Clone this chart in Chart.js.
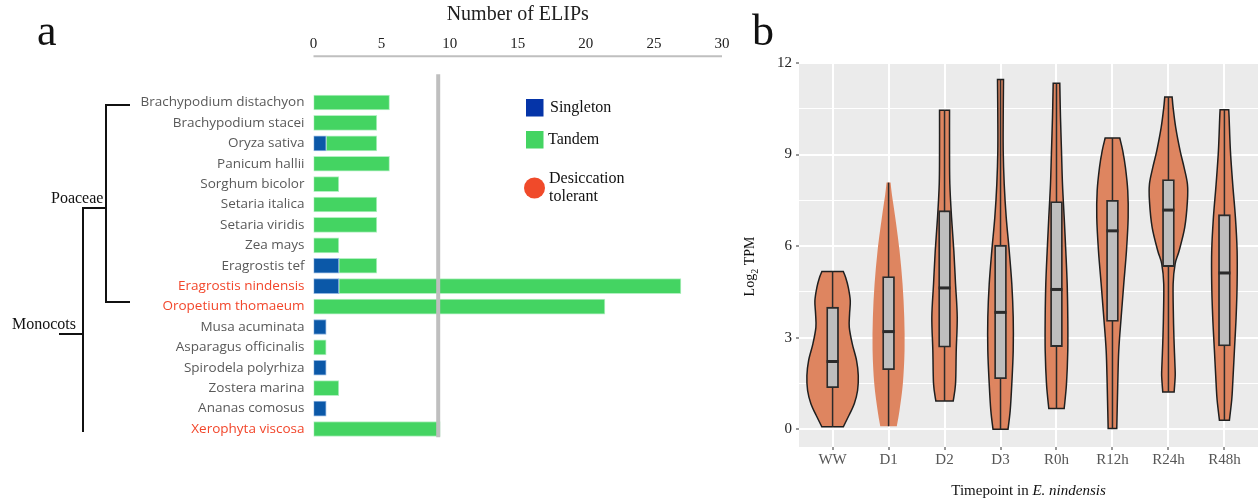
<!DOCTYPE html>
<html>
<head>
<meta charset="utf-8">
<script src="https://cdn.jsdelivr.net/npm/chart.js@4.4.1/dist/chart.umd.min.js"></script>
<style>
  html, body { margin: 0; padding: 0; background: #fff; }
  body { width: 1258px; height: 502px; position: relative; overflow: hidden; }
  #wrapA { position: absolute; left: 0; top: 0; width: 740px; height: 502px; }
  #wrapB { position: absolute; left: 740px; top: 0; width: 518px; height: 502px; }
</style>
</head>
<body>
<div id="wrapA"><canvas id="elips"></canvas></div>
<div id="wrapB"><canvas id="violins"></canvas></div>
<script>
// ---- panel a: ELIP counts per species ----
const species = [
  "Brachypodium distachyon", "Brachypodium stacei", "Oryza sativa", "Panicum hallii",
  "Sorghum bicolor", "Setaria italica", "Setaria viridis", "Zea mays", "Eragrostis tef",
  "Eragrostis nindensis", "Oropetium thomaeum", "Musa acuminata", "Asparagus officinalis",
  "Spirodela polyrhiza", "Zostera marina", "Ananas comosus", "Xerophyta viscosa"
];
const desiccationTolerant = ["Eragrostis nindensis", "Oropetium thomaeum", "Xerophyta viscosa"];
const singletonCounts = [0, 0, 1, 0, 0, 0, 0, 0, 2, 2, 0, 1, 0, 1, 0, 1, 0];
const tandemCounts = [6, 5, 4, 6, 2, 5, 5, 2, 3, 27, 23, 0, 1, 0, 2, 0, 10];
const elipTicks = [0, 5, 10, 15, 20, 25, 30];
const elipMarker = 10;

// ---- panel b: E. nindensis ELIP expression ----
const timepoints = ["WW", "D1", "D2", "D3", "R0h", "R12h", "R24h", "R48h"];
const tpmMin = [0.08, 0.1, 0.93, 0, 0.68, 0.03, 1.22, 0.3];
const tpmQ1 = [1.36, 1.95, 2.69, 1.66, 2.71, 3.53, 5.33, 2.73];
const tpmMedian = [2.22, 3.2, 4.63, 3.83, 4.58, 6.5, 7.18, 5.12];
const tpmQ3 = [4.0, 5.0, 7.16, 6.03, 7.46, 7.5, 8.18, 7.03];
const tpmMax = [5.17, 8.08, 10.45, 11.46, 11.33, 9.54, 10.88, 10.47];
const tpmTicks = [0, 3, 6, 9, 12];

// density profiles [log2 TPM, density]
const densityWW = [[0.08, 10.7], [0.41, 15.7], [0.84, 21.7], [1.27, 25], [1.76, 25.7], [2.25, 24], [2.8, 19.7], [3.34, 16.7], [3.78, 17], [4.21, 17.7], [4.65, 15.7], [4.98, 13], [5.17, 10.7]];
const densityD1 = [[0.1, 8.3], [0.62, 11], [1.49, 14.3], [2.58, 16], [3.67, 15.7], [4.76, 14], [5.85, 11], [6.94, 6.7], [7.7, 3.3], [8.08, 2]];
const densityD2 = [[0.93, 8.7], [1.49, 11], [2.58, 11.7], [3.67, 12.7], [4.76, 11], [5.85, 9.3], [6.94, 7], [8.03, 5.3], [9.12, 5], [10.45, 5]];
const densityD3 = [[0, 7.5], [0.62, 9.7], [1.49, 11.3], [2.58, 12.7], [3.67, 12.7], [4.76, 11.3], [5.85, 8.7], [6.94, 5.7], [8.03, 3.7], [9.12, 2.7], [10.21, 2.7], [11.46, 3]];
const densityR0h = [[0.68, 7.7], [1.49, 10], [2.58, 11.3], [3.67, 11.3], [4.76, 10.7], [5.85, 9.3], [6.94, 7.7], [8.03, 6], [9.12, 5], [10.21, 4], [11.33, 3.3]];
const densityR12h = [[0.03, 4.3], [0.62, 4.7], [1.49, 5.3], [2.58, 6.3], [3.67, 8.7], [4.76, 11.3], [5.85, 14], [6.94, 15.7], [7.81, 15.3], [8.57, 13], [9.12, 10.3], [9.54, 7.3]];
const densityR24h = [[1.22, 5.7], [1.7, 6.7], [1.95, 6.7], [2.8, 5.7], [3.67, 5], [4.76, 4.7], [5.42, 6.7], [5.85, 10.7], [6.61, 16.3], [7.48, 19], [8.03, 19], [8.57, 15.7], [9.12, 11.7], [9.88, 7.3], [10.53, 4.7], [10.88, 3.7]];
const densityR48h = [[0.3, 5], [0.96, 7.3], [1.49, 8.3], [2.58, 10], [3.67, 11.7], [4.76, 12.7], [5.85, 12.7], [6.94, 11], [8.03, 8.3], [9.12, 6], [10.21, 4.7], [10.47, 4.3]];
const densities = [densityWW, densityD1, densityD2, densityD3, densityR0h, densityR12h, densityR24h, densityR48h];

const SERIF = '"Liberation Serif", "Times New Roman", serif';
const SANS = '"Open Sans", "Noto Sans", sans-serif';
const RED = "#f2462b";
const BLUE = "#0b58a8";
const GREEN = "#44d462";
const VIOLIN_FILL = "#de8560";
const DENSITY_PER_CATEGORY = 56; // density units across one category step
const noOutline = ["D1"];

Chart.defaults.animation = false;

// ---------- panel a ----------
const panelAPlugin = {
  id: "panelA",
  afterDatasetsDraw(chart) {
    const { ctx, chartArea, scales } = chart;
    const { x, x2, y } = scales;
    const row = (v) => y.getPixelForValue(v);
    ctx.save();

    // axis rule under the top tick labels
    ctx.strokeStyle = "#bfbfbf";
    ctx.lineWidth = 2;
    ctx.beginPath();
    ctx.moveTo(x2.left, chartArea.top - 36);
    ctx.lineTo(x2.right, chartArea.top - 36);
    ctx.stroke();

    // grey marker line at 10 ELIPs
    const mx = x.getPixelForValue(elipMarker) - 2;
    ctx.lineWidth = 4;
    ctx.beginPath();
    ctx.moveTo(mx, chartArea.top - 18);
    ctx.lineTo(mx, chartArea.bottom - 2);
    ctx.stroke();

    // cladogram
    ctx.strokeStyle = "#111";
    ctx.lineWidth = 2;
    const poaTop = row(0.12), poaBottom = row(9.78), poaMid = row(5.17);
    const monoBottom = row(16.15), monoMid = row(11.35);
    ctx.beginPath();
    ctx.moveTo(130, poaTop); ctx.lineTo(106, poaTop); ctx.lineTo(106, poaBottom); ctx.lineTo(130, poaBottom);
    ctx.moveTo(106, poaMid); ctx.lineTo(83, poaMid); ctx.lineTo(83, monoBottom);
    ctx.moveTo(83, monoMid); ctx.lineTo(59, monoMid);
    ctx.stroke();

    ctx.fillStyle = "#111";
    ctx.font = `16px ${SERIF}`;
    ctx.textBaseline = "middle";
    ctx.textAlign = "left";
    ctx.fillText("Poaceae", 51, poaMid - 9);
    ctx.fillText("Monocots", 12, monoMid - 9);

    // legend
    const ds = chart.data.datasets;
    ctx.fillStyle = "#0534a8";
    ctx.fillRect(526, 99, 17.5, 17.5);
    ctx.fillStyle = GREEN;
    ctx.fillRect(526, 131, 17.5, 17.5);
    ctx.fillStyle = "#f04a2a";
    ctx.beginPath();
    ctx.arc(534.5, 188, 10.5, 0, Math.PI * 2);
    ctx.fill();
    ctx.fillStyle = "#111";
    ctx.fillText(ds[0].label, 550, 108);
    ctx.fillText(ds[1].label, 548, 140);
    ctx.fillText("Desiccation", 549, 179);
    ctx.fillText("tolerant", 549, 197);

    // panel letter
    ctx.font = `44px ${SERIF}`;
    ctx.textBaseline = "alphabetic";
    ctx.fillText("a", 37, 45);
    ctx.restore();
  }
};

new Chart(document.getElementById("elips"), {
  type: "bar",
  data: {
    labels: species,
    datasets: [
      { label: "Singleton", data: singletonCounts, backgroundColor: BLUE, borderColor: "#8fb4e0" },
      { label: "Tandem", data: tandemCounts, backgroundColor: GREEN, borderColor: "#b3f0c2" }
    ]
  },
  options: {
    indexAxis: "y",
    responsive: true,
    maintainAspectRatio: false,
    layout: { padding: { left: 0, top: 0, right: 18, bottom: 62.8 } },
    datasets: { bar: { barThickness: 15, borderWidth: 1, borderSkipped: false } },
    plugins: { legend: { display: false }, tooltip: { enabled: false } },
    scales: {
      x: { stacked: true, display: false, min: 0, max: 32.24 },
      x2: {
        type: "linear",
        axis: "x",
        position: "top",
        min: 0,
        max: 30,
        afterBuildTicks: (s) => { s.ticks = elipTicks.map((v) => ({ value: v })); },
        afterFit: (s) => { s.height = 92.3; s.paddingLeft = 0; s.paddingRight = 0; },
        grid: { display: false, drawTicks: false },
        border: { display: false },
        ticks: { padding: 39, color: "#222", font: { family: SERIF, size: 15 }, maxRotation: 0 },
        title: { display: true, text: "Number of ELIPs", color: "#222", font: { family: SERIF, size: 20 }, padding: { top: 3, bottom: 0 } }
      },
      y: {
        stacked: true,
        afterFit: (s) => { s.width = 313.5; s.paddingTop = 0; s.paddingBottom = 0; },
        grid: { display: false, drawTicks: false },
        border: { display: false },
        ticks: {
          padding: 9,
          autoSkip: false,
          font: { family: SANS, size: 13.5 },
          color: (c) => desiccationTolerant.includes(species[c.index]) ? RED : "#595959"
        }
      }
    }
  },
  plugins: [panelAPlugin]
});

// ---------- panel b ----------
function splineThrough(ctx, pts) {
  for (let i = 0; i < pts.length - 1; i++) {
    const p0 = pts[Math.max(0, i - 1)], p1 = pts[i], p2 = pts[i + 1], p3 = pts[Math.min(pts.length - 1, i + 2)];
    ctx.bezierCurveTo(
      p1.x + (p2.x - p0.x) / 6, p1.y + (p2.y - p0.y) / 6,
      p2.x - (p3.x - p1.x) / 6, p2.y - (p3.y - p1.y) / 6,
      p2.x, p2.y
    );
  }
}

const violinPlugin = {
  id: "violins",
  beforeDraw(chart) {
    const { ctx, chartArea } = chart;
    ctx.save();
    ctx.fillStyle = "#ebebeb";
    ctx.fillRect(chartArea.left, chartArea.top, chartArea.right - chartArea.left, chartArea.bottom - chartArea.top);
    ctx.restore();
  },
  beforeDatasetsDraw(chart) {
    const { ctx, scales: { x, y } } = chart;
    ctx.save();
    densities.forEach((profile, i) => {
      const cx = x.getPixelForValue(i);
      const half = (d) => x.getPixelForValue(i + d / DENSITY_PER_CATEGORY) - cx;
      const right = profile.map(([v, d]) => ({ x: cx + half(d), y: y.getPixelForValue(v) }));
      const left = right.map((p) => ({ x: 2 * cx - p.x, y: p.y })).reverse();
      ctx.beginPath();
      ctx.moveTo(left[left.length - 1].x, left[left.length - 1].y);
      ctx.lineTo(right[0].x, right[0].y);
      splineThrough(ctx, right);
      ctx.lineTo(left[0].x, left[0].y);
      splineThrough(ctx, left);
      ctx.closePath();
      ctx.fillStyle = VIOLIN_FILL;
      ctx.fill();
      if (!noOutline.includes(timepoints[i])) {
        ctx.strokeStyle = "#1f1f1f";
        ctx.lineWidth = 1.5;
        ctx.stroke();
      }
      // whisker
      ctx.strokeStyle = "#2b2b2b";
      ctx.lineWidth = 1.5;
      ctx.beginPath();
      ctx.moveTo(cx, y.getPixelForValue(tpmMin[i]));
      ctx.lineTo(cx, y.getPixelForValue(tpmMax[i]));
      ctx.stroke();
    });
    ctx.restore();
  },
  afterDatasetsDraw(chart) {
    const { ctx, scales: { x, y } } = chart;
    ctx.save();
    ctx.strokeStyle = "#2b2b2b";
    ctx.lineWidth = 3;
    tpmMedian.forEach((m, i) => {
      const cx = x.getPixelForValue(i);
      const my = y.getPixelForValue(m);
      ctx.beginPath();
      ctx.moveTo(cx - 6, my);
      ctx.lineTo(cx + 6, my);
      ctx.stroke();
    });
    ctx.restore();
  },
  afterDraw(chart) {
    const { ctx, chartArea } = chart;
    ctx.save();
    ctx.fillStyle = "#111";
    ctx.font = `44px ${SERIF}`;
    ctx.textBaseline = "alphabetic";
    ctx.textAlign = "left";
    ctx.fillText("b", 12, 45);

    // x title, species name in italics
    const cxTitle = (chartArea.left + chartArea.right) / 2;
    const plain = "Timepoint in ";
    const ital = "E. nindensis";
    ctx.font = `15px ${SERIF}`;
    const w1 = ctx.measureText(plain).width;
    ctx.font = `italic 15px ${SERIF}`;
    const w2 = ctx.measureText(ital).width;
    const start = cxTitle - (w1 + w2) / 2;
    ctx.textBaseline = "middle";
    ctx.font = `15px ${SERIF}`;
    ctx.fillText(plain, start, 491);
    ctx.font = `italic 15px ${SERIF}`;
    ctx.fillText(ital, start + w1, 491);

    // y title with subscript
    ctx.translate(10, (chartArea.top + chartArea.bottom) / 2 + 12);
    ctx.rotate(-Math.PI / 2);
    ctx.font = `14px ${SERIF}`;
    const a = ctx.measureText("Log").width;
    ctx.font = `10px ${SERIF}`;
    const b = ctx.measureText("2").width;
    ctx.font = `14px ${SERIF}`;
    const c = ctx.measureText(" TPM").width;
    let px = -(a + b + c) / 2;
    ctx.fillText("Log", px, 0);
    px += a;
    ctx.font = `10px ${SERIF}`;
    ctx.fillText("2", px, 5);
    px += b;
    ctx.font = `14px ${SERIF}`;
    ctx.fillText(" TPM", px, 0);
    ctx.restore();
  }
};

new Chart(document.getElementById("violins"), {
  type: "bar",
  data: {
    datasets: [{
      label: "IQR",
      data: timepoints.map((_, i) => ({ x: i, y: [tpmQ1[i], tpmQ3[i]] })),
      backgroundColor: "#bebebe",
      borderColor: "#2b2b2b",
      borderWidth: 1.8,
      borderSkipped: false,
      barThickness: 12
    }]
  },
  options: {
    responsive: true,
    maintainAspectRatio: false,
    layout: { padding: { left: 0, top: 62, right: 0, bottom: 0 } },
    plugins: { legend: { display: false }, tooltip: { enabled: false } },
    scales: {
      x: {
        type: "linear",
        min: -0.6,
        max: 7.6,
        offset: false,
        afterBuildTicks: (s) => { s.ticks = timepoints.map((_, i) => ({ value: i })); },
        afterFit: (s) => { s.height = 55; s.paddingLeft = 0; s.paddingRight = 0; },
        grid: { color: "#ffffff", lineWidth: 2, tickColor: "#333", tickLength: 3, tickWidth: 1, offset: false },
        border: { display: false },
        ticks: {
          autoSkip: false,
          maxRotation: 0,
          padding: 1,
          color: "#555",
          font: { family: SERIF, size: 15 },
          callback: (v) => timepoints[v]
        }
      },
      y: {
        min: -0.58,
        max: 12.03,
        afterBuildTicks: (s) => {
          const t = [];
          for (let k = 0; k < tpmTicks.length; k++) {
            t.push({ value: tpmTicks[k] });
            if (k < tpmTicks.length - 1) t.push({ value: (tpmTicks[k] + tpmTicks[k + 1]) / 2 });
          }
          s.ticks = t;
        },
        afterFit: (s) => { s.width = 59; s.paddingTop = 0; s.paddingBottom = 0; },
        grid: {
          color: "#ffffff",
          lineWidth: (c) => tpmTicks.includes(c.tick?.value) ? 2 : 1,
          tickColor: (c) => tpmTicks.includes(c.tick?.value) ? "#333" : "rgba(0,0,0,0)",
          tickLength: 3,
          tickWidth: 1
        },
        border: { display: false },
        ticks: {
          padding: 4,
          color: "#222",
          font: { family: SERIF, size: 15 },
          callback: (v) => tpmTicks.includes(v) ? String(v) : ""
        }
      }
    }
  },
  plugins: [violinPlugin]
});
</script>
</body>
</html>
